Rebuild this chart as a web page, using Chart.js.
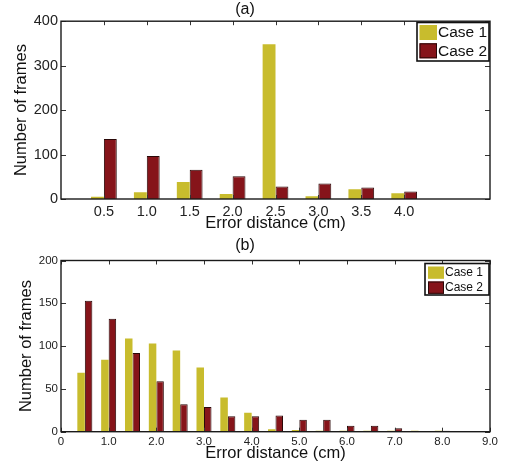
<!DOCTYPE html>
<html>
<head>
<meta charset="utf-8">
<script src="https://cdn.jsdelivr.net/npm/chart.js@4.4.0/dist/chart.umd.min.js"></script>
<style>
  body { margin: 0; background: #fff; }
  #marcoGeneral { position: relative; width: 507px; height: 467px; }
  canvas { position: absolute; left: 0; }
  #graficoA { top: 0; }
  #graficoB { top: 233px; }
</style>
</head>
<body>
<div id="marcoGeneral">
  <canvas id="graficoA" width="507" height="233"></canvas>
  <canvas id="graficoB" width="507" height="234"></canvas>
</div>
<script>
// (a)
var distanciasA = [0.5, 1.0, 1.5, 2.0, 2.5, 3.0, 3.5, 4.0];
var caso1A = [5, 15, 38, 11, 348, 6, 22, 13];
var caso2A = [135, 97, 66, 51, 28, 35, 26, 17];

// (b)
var distanciasB = [0.5, 1.0, 1.5, 2.0, 2.5, 3.0, 3.5, 4.0, 4.5, 5.0, 5.5, 6.0, 6.5, 7.0, 7.5, 8.0];
var caso1B = [69, 84, 109, 103, 95, 75, 40, 22, 3, 2, 1, 1, 1, 1, 1, 1];
var caso2B = [153, 132, 92, 59, 32, 29, 18, 18, 19, 14, 14, 7, 7, 4, 0, 1];

var etiquetas = ['Case 1', 'Case 2'];
var amarillo = '#C8BC2D';
var rojo = '#86141A';
var fuente = '"Liberation Sans", Arial, Helvetica, sans-serif';

function puntos(xs, ys) {
    return xs.map(function (x, i) { return { x: x, y: ys[i] }; });
}

// caja tipo matlab con marcas hacia dentro
var marco = {
    id: 'marco',
    afterDatasetsDraw: function (chart) {
        var ctx = chart.ctx, a = chart.chartArea;
        var xs = chart.scales.x, ys = chart.scales.y;
        ctx.save();
        ctx.strokeStyle = '#333';
        ctx.lineWidth = 1;
        ctx.beginPath();
        xs.ticks.forEach(function (t) {
            var px = Math.round(xs.getPixelForValue(t.value)) + 0.5;
            ctx.moveTo(px, a.bottom); ctx.lineTo(px, a.bottom - 4);
            ctx.moveTo(px, a.top); ctx.lineTo(px, a.top + 4);
        });
        ys.ticks.forEach(function (t) {
            var py = Math.round(ys.getPixelForValue(t.value)) + 0.5;
            ctx.moveTo(a.left, py); ctx.lineTo(a.left + 5, py);
            ctx.moveTo(a.right, py); ctx.lineTo(a.right - 5, py);
        });
        ctx.stroke();
        ctx.strokeStyle = '#1a1a1a';
        ctx.lineWidth = 1.4;
        ctx.strokeRect(a.left, a.top, a.width, a.height);
        ctx.restore();
    }
};

var leyenda = {
    id: 'leyenda',
    afterDraw: function (chart, args, o) {
        var ctx = chart.ctx;
        ctx.save();
        ctx.fillStyle = '#fff';
        ctx.fillRect(o.x, o.y, o.w, o.h);
        ctx.lineWidth = 1.6;
        ctx.strokeStyle = '#111';
        ctx.strokeRect(o.x, o.y, o.w, o.h);
        ctx.font = o.size + 'px ' + fuente;
        ctx.textBaseline = 'middle';
        chart.data.datasets.forEach(function (ds, i) {
            var sy = o.y + o.pad + i * o.step;
            ctx.fillStyle = ds.backgroundColor;
            ctx.fillRect(o.x + o.pad, sy, o.sw, o.sh);
            if (ds.borderWidth) {
                ctx.strokeStyle = ds.borderColor;
                ctx.lineWidth = 1;
                ctx.strokeRect(o.x + o.pad + 0.5, sy + 0.5, o.sw - 1, o.sh - 1);
            }
            ctx.fillStyle = '#111';
            ctx.fillText(ds.label, o.x + o.pad + o.sw + 1, sy + o.sh / 2 + 0.5);
        });
        ctx.restore();
    }
};

function opciones(cfg) {
    return {
        responsive: false,
        animation: false,
        events: [],
        layout: { padding: { left: 0, right: 17, top: 0, bottom: 0 } },
        datasets: { bar: { categoryPercentage: cfg.cat, barPercentage: 1.0 } },
        plugins: {
            legend: { display: false },
            tooltip: { enabled: false },
            title: {
                display: true,
                text: cfg.titulo,
                color: '#111',
                font: { family: fuente, size: 16, weight: 'normal' },
                padding: cfg.padTitulo
            },
            leyenda: cfg.leyenda
        },
        scales: {
            x: {
                type: 'linear',
                offset: false,
                min: 0,
                max: cfg.xmax,
                grid: { display: false, drawTicks: false },
                border: { display: false },
                afterFit: function (s) { s.height = cfg.altoX; },
                afterBuildTicks: cfg.marcasX,
                ticks: {
                    stepSize: 1,
                    autoSkip: false,
                    maxRotation: 0,
                    padding: cfg.padMarcasX,
                    color: '#222',
                    font: { family: fuente, size: cfg.tamMarcas },
                    callback: function (v) { return v === 0 ? '0' : Number(v).toFixed(1); }
                },
                title: {
                    display: true,
                    text: 'Error distance (cm)',
                    color: '#111',
                    font: { family: fuente, size: 16.5 },
                    padding: { top: 0, bottom: cfg.padTituloX }
                }
            },
            y: {
                min: 0,
                max: cfg.ymax,
                grid: { display: false, drawTicks: false },
                border: { display: false },
                afterFit: function (s) { s.width = 61; },
                ticks: {
                    stepSize: cfg.ypaso,
                    autoSkip: false,
                    padding: 3,
                    color: '#222',
                    font: { family: fuente, size: cfg.tamMarcas }
                },
                title: {
                    display: true,
                    text: 'Number of frames',
                    color: '#111',
                    font: { family: fuente, size: 16.5 },
                    padding: { top: cfg.padTituloY, bottom: 0 }
                }
            }
        }
    };
}

function conjuntos(xs, c1, c2) {
    return [{
        label: etiquetas[0],
        data: puntos(xs, c1),
        backgroundColor: amarillo,
        borderWidth: 0
    }, {
        label: etiquetas[1],
        data: puntos(xs, c2),
        backgroundColor: rojo,
        borderColor: '#2a0808',
        borderWidth: 1
    }];
}

var graficoA = new Chart(document.getElementById('graficoA'), {
    type: 'bar',
    data: { datasets: conjuntos(distanciasA, caso1A, caso2A) },
    options: opciones({
        titulo: '(a)',
        padTitulo: { top: 0, bottom: 2 },
        cat: 0.6,
        xmax: 5,
        ymax: 400,
        ypaso: 100,
        altoX: 34,
        tamMarcas: 14.5,
        padMarcasX: 4,
        padTituloX: 0,
        padTituloY: 12,
        marcasX: function (s) {
            s.ticks = distanciasA.map(function (v) { return { value: v }; });
        },
        leyenda: { x: 417, y: 22.5, w: 72, h: 38.5, pad: 2.5, sw: 17.5, sh: 15, step: 18.3, size: 15.5 }
    }),
    plugins: [marco, leyenda]
});

var graficoB = new Chart(document.getElementById('graficoB'), {
    type: 'bar',
    data: { datasets: conjuntos(distanciasB, caso1B, caso2B) },
    options: opciones({
        titulo: '(b)',
        padTitulo: { top: 3, bottom: 5.3 },
        cat: 0.63,
        xmax: 9,
        ymax: 200,
        ypaso: 50,
        altoX: 35.3,
        tamMarcas: 11.5,
        padMarcasX: 3,
        padTituloX: 3.6,
        padTituloY: 17,
        marcasX: undefined,
        leyenda: { x: 425, y: 30.5, w: 64, h: 31.5, pad: 3, sw: 16, sh: 12.3, step: 15, size: 12 }
    }),
    plugins: [marco, leyenda]
});
</script>
</body>
</html>
